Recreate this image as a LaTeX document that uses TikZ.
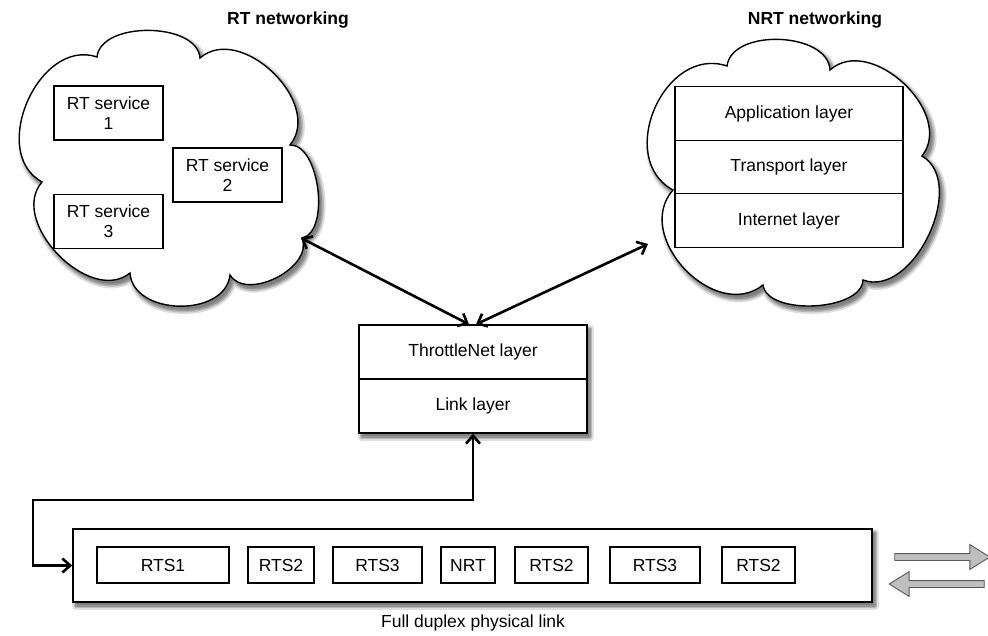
\documentclass[tikz,border=0pt]{standalone}
\usepackage{fontspec}
\setmainfont{Liberation Sans}
\usetikzlibrary{shapes.arrows,arrows.meta}
% outlines of the two clouds, offset by (#1,#2) so that they also give the shadows
\newcommand\rtcloudoutline[2]{(97+#1,-57+#2) to[puff=0.9] (200+#1,-58+#2)
  to[puff=1.1] (290+#1,-145+#2) to[puff=0.8] (302+#1,-238+#2)
  to[puff=1.0] (230+#1,-275+#2) to[puff=1.1] (130+#1,-273+#2)
  to[puff=1.05] (42+#1,-182+#2) to[puff=1.15] (97+#1,-57+#2) -- cycle}
\newcommand\nrtcloudoutline[2]{(727+#1,-66+#2) to[puff=0.95] (830+#1,-70+#2)
  to[puff=1.1] (922+#1,-156+#2) to[puff=1.0] (863+#1,-280+#2)
  to[puff=0.8] (763+#1,-285+#2) to[puff=1.2] (673+#1,-190+#2)
  to[puff=1.25] (727+#1,-66+#2) -- cycle}
\begin{document}
\begin{tikzpicture}[x=1pt,y=1pt,
  every node/.style={font=\fontsize{17.5}{20}\selectfont},
  shadowhalo/.style={draw=black!13, line width=8pt, line join=round},
  shadowmid/.style={draw=black!28, line width=4.5pt, line join=round},
  shadowcore/.style={fill=black!50, draw=black!42, line width=1.5pt, line join=round},
  box/.style={draw, line width=1.4pt, fill=white, inner sep=0pt, align=center},
  layerbox/.style={box, minimum width=228pt, minimum height=54pt},
  svcbox/.style={box, minimum width=109pt, minimum height=54pt},
  slot/.style={box, minimum height=36pt},
  puffy/.style={draw, line width=1.4pt, fill=white},
  puff/.style={bend left=85, looseness=#1},
  link/.style={line width=2.6pt, {Straight Barb[length=8pt,width=14pt]}-{Straight Barb[length=8pt,width=14pt]}},
  flow/.style={single arrow, draw=black!65, line width=0.9pt, fill=black!25,
      inner sep=3pt, single arrow head extend=9pt, single arrow tip angle=64,
      minimum height=95pt},
  title/.style={font=\fontsize{17.5}{20}\selectfont\bfseries}
]
\useasboundingbox (0,0) rectangle (988,-635);

% Soft drop shadows, drawn first so the shapes cover them
\foreach \layer in {shadowhalo,shadowmid,shadowcore}{
  \path[\layer] \rtcloudoutline{3}{-4};
  \path[\layer] \nrtcloudoutline{3}{-4};
  \path[\layer] (362,-329) rectangle (590,-437);
  \path[\layer] (76,-533) rectangle (875,-606);
}

% RT networking cloud with its services
\node[title] (rttitle) at (288,-20) {RT networking};
\path[puffy] \rtcloudoutline{0}{0};
\coordinate (rtport) at (301,-238);
\node[svcbox] (s1) at (108.5,-113) {RT service\\1};
\node[svcbox] (s2) at (227.5,-175) {RT service\\2};
\node[svcbox] (s3) at (108.5,-221.5) {RT service\\3};

% NRT networking cloud with the IP stack
\node[title] (nrttitle) at (815,-20) {NRT networking};
\path[puffy] \nrtcloudoutline{0}{0};
\coordinate (nrtport) at (648,-244);
\node[layerbox, minimum height=53.5pt] (app) at (789,-113.5) {Application layer};
\node[layerbox, minimum height=53.5pt] (trn) at (789,-167) {Transport layer};
\node[layerbox, minimum height=53.5pt] (inet) at (789,-220.5) {Internet layer};

% ThrottleNet stack
\node[layerbox] (tn) at (473,-352) {ThrottleNet layer};
\node[layerbox] (ll) at (473,-406) {Link layer};

% Physical link with its time slots
\node[box, minimum width=799pt, minimum height=73pt] (phy) at (472.5,-565.5) {};
\node[slot, minimum width=132pt] (f1) at (163,-565) {RTS1};
\node[slot, minimum width=66pt]  (f2) at (281,-565) {RTS2};
\node[slot, minimum width=89pt]  (f3) at (377.5,-565) {RTS3};
\node[slot, minimum width=54pt]  (f4) at (468,-565) {NRT};
\node[slot, minimum width=73pt]  (f5) at (551.5,-565) {RTS2};
\node[slot, minimum width=90pt]  (f6) at (655,-565) {RTS3};
\node[slot, minimum width=73pt]  (f7) at (758.5,-565) {RTS2};
\node (phylabel) at (473,-623) {Full duplex physical link};

% Duplex direction arrows
\node[flow] (tx) at (939.5,-557) {};
\node[flow, shape border rotate=180] (rx) at (939.5,-584) {};

% Connectors
\draw[link] (rtport) -- ([xshift=-4pt]tn.north);
\draw[link] (nrtport) -- ([xshift=3pt]tn.north);
\coordinate (bend) at (33,-500);
\draw[link] (ll.south) |- (bend) |- (phy.west);
\end{tikzpicture}
\end{document}
